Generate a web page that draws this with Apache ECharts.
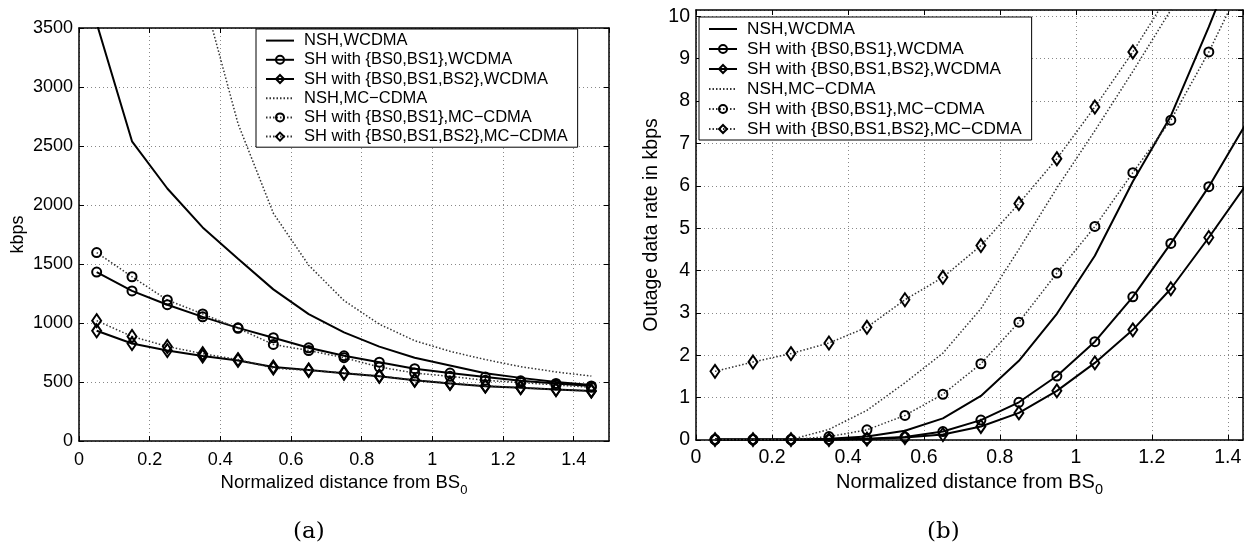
<!DOCTYPE html>
<html>
<head>
<meta charset="utf-8">
<script src="https://cdn.jsdelivr.net/npm/echarts@6/dist/echarts.min.js"></script>
<style>
html, body { margin: 0; padding: 0; background: #fff; }
#container { width: 1245px; height: 546px; }
</style>
</head>
<body>
<div id="container"></div>
<script>
var dom = document.getElementById("container");
var myChart = echarts.init(dom);

// distances (normalized, from BS0)
var xs = [0.05, 0.15, 0.25, 0.35, 0.45, 0.55, 0.65, 0.75, 0.85, 0.95, 1.05, 1.15, 1.25, 1.35, 1.45];

var names = ['NSH,WCDMA', 'SH with {BS0,BS1},WCDMA', 'SH with {BS0,BS1,BS2},WCDMA',
    'NSH,MC\u2212CDMA', 'SH with {BS0,BS1},MC\u2212CDMA', 'SH with {BS0,BS1,BS2},MC\u2212CDMA'];

// (a) kbps
var nshWcdmaA = [3540, 2540, 2140, 1810, 1545, 1285, 1075, 920, 800, 705, 640, 575, 535, 500, 475];
var sh01WcdmaA = [1432, 1272, 1155, 1052, 959, 875, 790, 722, 668, 613, 576, 542, 510, 488, 466];
var sh012WcdmaA = [934, 826, 767, 720, 683, 627, 602, 574, 548, 514, 488, 465, 452, 436, 424];
var nshMcA = [null, null, 6300, 3800, 2690, 1930, 1490, 1190, 990, 850, 760, 690, 630, 585, 550];
var sh01McA = [1597, 1392, 1195, 1077, 955, 818, 767, 706, 627, 576, 548, 514, 495, 475, 455];
var sh012McA = [1020, 886, 801, 740, 690, 618, 598, 578, 550, 516, 490, 466, 452, 436, 424];

// (b) outage data rate, kbps
var nshWcdmaB = [0.01, 0.01, 0.01, 0.03, 0.08, 0.22, 0.51, 1.04, 1.87, 2.98, 4.35, 6.1, 7.65, 9.75, 12.0];
var sh01WcdmaB = [0.01, 0.01, 0.01, 0.01, 0.03, 0.07, 0.2, 0.47, 0.89, 1.51, 2.32, 3.38, 4.64, 5.98, 7.5];
var sh012WcdmaB = [0.01, 0.01, 0.01, 0.01, 0.02, 0.06, 0.13, 0.32, 0.64, 1.16, 1.82, 2.6, 3.57, 4.78, 6.05];
var nshMcB = [0.01, 0.01, 0.01, 0.25, 0.7, 1.35, 2.05, 3.1, 4.5, 5.95, 7.3, 8.7, 10.15, 11.7, 13.3];
var sh01McB = [0.01, 0.01, 0.01, 0.08, 0.24, 0.58, 1.08, 1.8, 2.78, 3.94, 5.04, 6.31, 7.55, 9.16, 11.0];
var sh012McB = [1.62, 1.84, 2.04, 2.29, 2.66, 3.31, 3.84, 4.59, 5.58, 6.64, 7.86, 9.16, 10.6, 12.2, 14.0];

function pairs(ys) {
    var out = [];
    for (var i = 0; i < xs.length; i++) {
        out.push([xs[i], ys[i]]);
    }
    return out;
}

var FONT = 'Liberation Sans, Arial, Helvetica, sans-serif';
var gridLine = { show: true, lineStyle: { color: '#888', width: 1, type: [1, 3] } };

function mkSeries(name, ys, xi, solid, symbol) {
    return {
        name: name,
        type: 'line',
        xAxisIndex: xi,
        yAxisIndex: xi,
        data: pairs(ys),
        clip: true,
        silent: true,
        symbol: symbol || 'none',
        symbolSize: symbol === 'diamond' ? [9, 13] : 9,
        showAllSymbol: true,
        lineStyle: solid ? { color: '#000', width: 2, type: 'solid' } : { color: '#333', width: 1.5, type: [1.5, 2] },
        itemStyle: { color: 'transparent', borderColor: '#000', borderWidth: 2 },
        emphasis: { disabled: true }
    };
}

function xAx(grid, max, fs, margin, gap) {
    return [{
        type: 'value', gridIndex: grid, min: 0, max: max, interval: 0.2, position: 'bottom',
        axisLine: { onZero: false, lineStyle: { color: '#000', width: 1.5 } },
        axisTick: { inside: true, length: 5, lineStyle: { color: '#000' } },
        axisLabel: { fontSize: fs, color: '#000', fontFamily: FONT, margin: margin, showMaxLabel: false,
            formatter: function (v) { return String(Math.round(v * 10) / 10); } },
        splitLine: gridLine,
        name: 'Normalized distance from BS{sub|0}', nameLocation: 'middle', nameGap: gap,
        nameTextStyle: { fontSize: fs + 0.5, color: '#000', fontFamily: FONT,
            rich: { sub: { fontSize: fs - 5, fontFamily: FONT, color: '#000', verticalAlign: 'middle', padding: [14, 0, 0, 0] } } }
    }, {
        type: 'value', gridIndex: grid, min: 0, max: max, interval: 0.2, position: 'top',
        axisLine: { onZero: false, lineStyle: { color: '#000', width: 1.5 } },
        axisTick: { inside: true, length: 5, lineStyle: { color: '#000' } },
        axisLabel: { show: false }, splitLine: { show: false }
    }];
}

function yAx(grid, max, interval, fs, name, gap) {
    return [{
        type: 'value', gridIndex: grid, min: 0, max: max, interval: interval, position: 'left',
        axisLine: { onZero: false, lineStyle: { color: '#000', width: 1.5 } },
        axisTick: { inside: true, length: 5, lineStyle: { color: '#000' } },
        axisLabel: { fontSize: fs, color: '#000', fontFamily: FONT, margin: 6, showMaxLabel: max % interval === 0,
            formatter: function (v) { return String(v); } },
        splitLine: gridLine,
        name: name, nameLocation: 'middle', nameGap: gap,
        nameTextStyle: { fontSize: fs, color: '#000', fontFamily: FONT }
    }, {
        type: 'value', gridIndex: grid, min: 0, max: max, interval: interval, position: 'right',
        axisLine: { onZero: false, lineStyle: { color: '#000', width: 1.5 } },
        axisTick: { inside: true, length: 5, lineStyle: { color: '#000' } },
        axisLabel: { show: false }, splitLine: { show: false }
    }];
}

var xAxes = xAx(0, 1.5, 18, 10, 23).concat(xAx(1, 1.44, 19.5, 8, 22));
var yAxes = yAx(0, 3500, 500, 18, 'kbps', 52).concat(yAx(1, 10.15, 1, 19.5, 'Outage data rate in kbps', 34));

// axis index 0/1 belong to grid 0, 2/3 to grid 1
var series = [
    mkSeries(names[0], nshWcdmaA, 0, true, 'none'),
    mkSeries(names[1], sh01WcdmaA, 0, true, 'circle'),
    mkSeries(names[2], sh012WcdmaA, 0, true, 'diamond'),
    mkSeries(names[3], nshMcA, 0, false, 'none'),
    mkSeries(names[4], sh01McA, 0, false, 'circle'),
    mkSeries(names[5], sh012McA, 0, false, 'diamond'),
    mkSeries(names[0], nshWcdmaB, 2, true, 'none'),
    mkSeries(names[1], sh01WcdmaB, 2, true, 'circle'),
    mkSeries(names[2], sh012WcdmaB, 2, true, 'diamond'),
    mkSeries(names[3], nshMcB, 2, false, 'none'),
    mkSeries(names[4], sh01McB, 2, false, 'circle'),
    mkSeries(names[5], sh012McB, 2, false, 'diamond')
];

function legendData() {
    var hidden = { color: 'transparent', borderWidth: 0, borderColor: 'transparent' };
    return names.map(function (n, i) {
        return (i === 0 || i === 3) ? { name: n, itemStyle: hidden } : { name: n };
    });
}

function mkLegend(left, top, fs, lh, pad) {
    return {
        data: legendData(), orient: 'vertical', left: left, top: top,
        itemWidth: 28, itemHeight: 10, itemGap: 2,
        selectedMode: false,
        backgroundColor: '#fff', borderColor: '#000', borderWidth: 1, borderRadius: 0,
        padding: pad,
        textStyle: { fontSize: fs, lineHeight: lh, color: '#000', fontFamily: FONT, padding: [0, 0, 0, 5] }
    };
}

var option = {
    animation: false,
    backgroundColor: '#fff',
    grid: [
        { left: 79, top: 28, width: 530, height: 413 },
        { left: 696, top: 10, width: 547, height: 430 }
    ],
    xAxis: xAxes,
    yAxis: yAxes,
    legend: [
        mkLegend(256, 29, 16.5, 17.2, [3, 10, 2, 9]),
        mkLegend(699, 17, 17.2, 18, [3, 10, 2, 9])
    ],
    series: series,
    graphic: [
        { type: 'text', left: 293, top: 521, style: { text: '(a)', font: '23px "DejaVu Serif", serif', fill: '#000' } },
        { type: 'text', left: 927, top: 521, style: { text: '(b)', font: '23px "DejaVu Serif", serif', fill: '#000' } }
    ]
};
myChart.setOption(option);
</script>
</body>
</html>
